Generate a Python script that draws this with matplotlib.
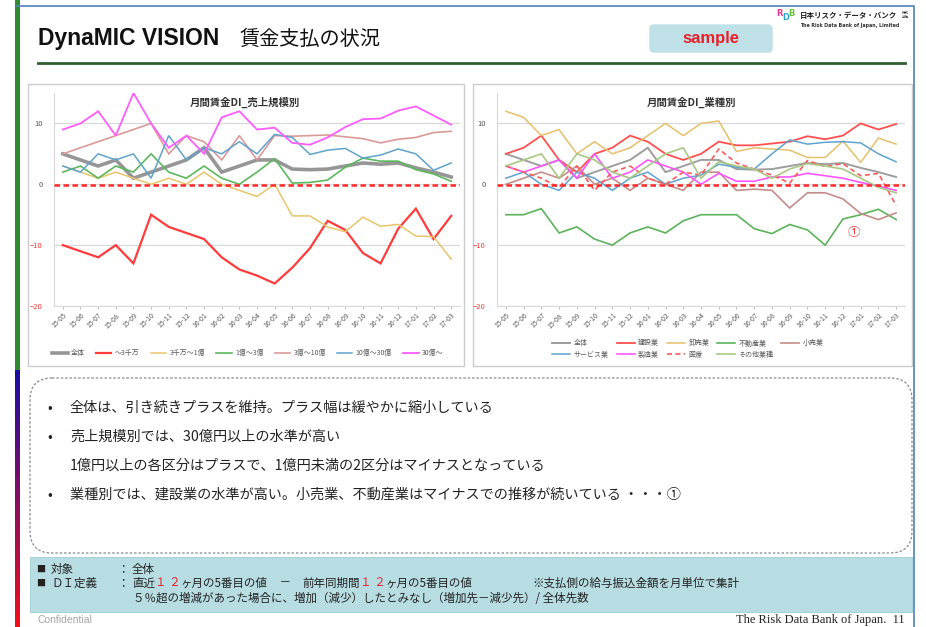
import numpy as np
import matplotlib
matplotlib.use("Agg")
import matplotlib.pyplot as plt
from matplotlib.patches import FancyBboxPatch, Rectangle

plt.rcParams["font.family"] = ["Noto Sans CJK JP", "DejaVu Sans"]

W, H = 926, 627

# ---- data ----
months = ['15-05', '15-06', '15-07', '15-08', '15-09', '15-10', '15-11', '15-12',
          '16-01', '16-02', '16-03', '16-04', '16-05', '16-06', '16-07', '16-08',
          '16-09', '16-10', '16-11', '16-12', '17-01', '17-02', '17-03']

# 売上規模別
size_total = [5, 4, 3, 4, 1, 2, 3, 4, 6, 2, 3, 4, 4, 2.5, 2.4, 2.5, 3, 3.5, 3.3, 3.5, 2.7, 2, 1.2]
size_lt3m = [-10, -11, -12, -10, -13, -5, -7, -8, -9, -12, -14, -15, -16.3, -13.7, -10.5, -6,
             -7.5, -11.3, -13, -7.3, -4, -9, -5.2]
size_3m_1 = [3, 2, 1, 2, 1, 0, 1, 0, 2, 0, -1, -2, 0, -5.2, -5.2, -7, -7.8, -5.4, -6.9, -6.6,
             -8.5, -8.6, -12.3]
size_1_3 = [2, 3, 1, 3, 2, 5, 2, 1, 3, 1, 0, 2, 4.2, 0.2, 0.3, 0.7, 2.8, 4.3, 3.8, 3.8, 2.4, 1.7, 0.5]
size_3_10 = [5, 6, 7, 8, 9, 10, 5, 8, 7, 4, 8, 4, 8, 7.9, 8, 8.1, 7.8, 7.5, 6.8, 7.4, 7.7, 8.5, 8.7]
size_10_30 = [3, 2, 5, 4, 5, 1, 8, 4, 6, 5, 7, 5, 8.2, 7.7, 4.9, 5.6, 5.9, 4.3, 4.8, 5.8, 5, 2.3, 3.5]
size_30 = [9, 10, 12, 8, 15, 10, 6, 8, 5, 11, 12, 9, 9.3, 6.8, 6.5, 7.7, 9.4, 10.7, 10.8, 12.1,
           12.8, 11.3, 9.8]
size_labels = ['全体', '～3千万', '3千万～1億', '1億～3億', '3億～10億', '10億～30億', '30億～']

# 業種別
ind_total = size_total
ind_const = [5, 6, 8, 4, 2, 5, 6, 8, 7, 5, 4, 5, 7, 6.4, 6.4, 6.7, 7, 7.9, 7.4, 8, 10, 9, 9.9]
ind_whole = [12, 11, 8, 9, 5, 7, 5, 6, 8, 10, 8, 10, 10.4, 5.4, 6, 5.8, 5.6, 4.4, 4.4, 7.1, 3.6, 7.6, 6.6]
ind_real = [-5, -5, -4, -8, -7, -9, -10, -8, -7, -8, -6, -5, -5, -5, -7.3, -8.1, -6.6, -7.5, -10,
            -5.7, -5, -4.1, -5.8]
ind_retail = [0, 1, 2, 1, 3, 0, 1, -1, 1, 0, -1, 2, 2, -1, -0.8, -1, -3.9, -1.4, -1.4, -2.4,
              -4.8, -5.8, -4.7]
ind_service = [1, 2, 0, -1, 2, 1, -1, 1, 2, 0, 1, 1.5, 3.3, 2.8, 2.5, 5, 7.3, 6.6, 6.9, 7, 6.8, 5, 3.7]
ind_mfg = [3, 2, 3, 4, 1, 5, 1, 2, 4, 3, 2, 0, 1.8, 0.5, 0.5, 1.2, 1.2, 1.8, 1.4, 1, 0.3, -0.3, -1]
ind_med = [3, 2, 1, -0.5, 3, -1, 2, 3, 1, 0, 2, 1.5, 5.8, 3.5, 2.5, 1.5, 0.2, 3.9, 2.9, 3.4, 1.4,
           1.8, -3.5]
ind_other = [3, 4, 5, 1, 5, 4, 2, 1, 3, 5, 6, 1, 3.7, 3, 2.5, 1, 2.5, 3.4, 3, 2.5, 1, -0.5, -1.4]
ind_labels = ['全体', '建設業', '卸売業', '不動産業', '小売業', 'サービス業', '製造業', '医療', 'その他業種']

bullets = ['全体は、引き続きプラスを維持。プラス幅は緩やかに縮小している',
           '売上規模別では、30億円以上の水準が高い',
           '1億円以上の各区分はプラスで、1億円未満の2区分はマイナスとなっている',
           '業種別では、建設業の水準が高い。小売業、不動産業はマイナスでの推移が続いている ・・・①']


fig = plt.figure(figsize=(W / 100, H / 100), dpi=100)
fig.patch.set_facecolor('white')

# background axes in pixel coordinates
bg = fig.add_axes([0, 0, 1, 1])
bg.set_xlim(0, W)
bg.set_ylim(H, 0)
bg.axis('off')

# slide frame
bg.plot([16, 914, 914], [6, 6, H], color='#4f81bd', lw=1.2)
bg.add_patch(Rectangle((15, 0), 5, 370, color='#2e8b2e', lw=0))
grad = np.linspace(0, 1, 60)
for i, g in enumerate(grad):
    c = (0.1 + 0.85 * g, 0.05, 0.65 * (1 - g) + 0.1 * g)
    bg.add_patch(Rectangle((15, 370 + i * (H - 370) / 60), 5, (H - 370) / 60 + 0.5, color=c, lw=0))

# title
bg.text(38, 39, 'DynaMIC VISION', fontsize=16.5, fontweight='bold', family='Liberation Sans',
        va='center', ha='left', color='#111111')
bg.text(240, 39, '賃金支払の状況', fontsize=14.5, va='center', ha='left', color='#111111')
bg.plot([38, 905], [63, 63], color='#2f5f2f', lw=2)

# sample box
bg.add_patch(FancyBboxPatch((650, 25), 122, 27, boxstyle='round,pad=0,rounding_size=4',
                            fc='#bfe0e6', ec='#bfe0e6'))
bg.text(711, 38.5, 'sample', fontsize=12, fontweight='bold', color='#e8202a',
        ha='center', va='center', family='Liberation Sans')

# logo
bg.text(776, 14, 'R', fontsize=6, color='#e83a8c', fontweight='bold', va='center', family='DejaVu Sans')
bg.text(782, 18, 'D', fontsize=6, color='#2aa7d8', fontweight='bold', va='center', family='DejaVu Sans')
bg.text(788, 14, 'B', fontsize=6, color='#6cbf3c', fontweight='bold', va='center', family='DejaVu Sans')
bg.text(800, 15, '日本リスク・データ・バンク', fontsize=5.4, fontweight='bold', va='center', color='#222222')
bg.text(902, 15, '株式\n会社', fontsize=2.5, va='center', color='#222222', linespacing=0.9)
bg.text(800, 26, 'The Risk Data Bank of Japan, Limited', fontsize=3.4, fontweight='bold',
        va='center', color='#333333', family='DejaVu Sans')

# chart frames
for x0, x1 in [(28, 464), (473, 912)]:
    bg.add_patch(Rectangle((x0, 84), x1 - x0, 282, fill=False, ec='#cccccc', lw=1))


def make_chart(left, right, series, title, title_x):
    ax = fig.add_axes([left / W, 1 - 306 / H, (right - left) / W, (306 - 93) / H])
    x = np.arange(len(months))
    for vals, color, lw, ls, lab in series:
        ax.plot(x, vals, color=color, lw=lw, ls=ls, label=lab, solid_joinstyle='miter')
    ax.axhline(-0.15, color='#ff2a2a', lw=1.8, ls=(0, (2.2, 1.4)), zorder=5)
    ax.set_xlim(-0.5, len(months) - 0.5)
    ax.set_ylim(-20, 15)
    ax.set_yticks([-20, -10, 0, 10])
    ax.yaxis.grid(True, color='#d9d9d9', lw=0.9)
    ax.set_axisbelow(True)
    ax.set_xticks(x)
    ax.set_xticklabels(months, rotation=45, ha='right', rotation_mode='anchor', fontsize=5,
                       color='#595959')
    ax.tick_params(axis='x', length=2, color='#bfbfbf', pad=2)
    ax.tick_params(axis='y', length=0, labelsize=5.5, pad=8, labelcolor='#595959')
    for t, v in zip(ax.get_yticklabels(), [-20, -10, 0, 10]):
        if v < 0:
            t.set_color('#ff3b3b')
    for s in ['top', 'right']:
        ax.spines[s].set_visible(False)
    ax.spines['left'].set_color('#d9d9d9')
    ax.spines['bottom'].set_color('#d9d9d9')
    ax.patch.set_alpha(0)
    bg.text(title_x, 102, title, fontsize=7.5, fontweight='bold', ha='center', va='center',
            color='#333333')
    return ax


ax1 = make_chart(54, 460, [
    (size_total, '#969696', 2.6, '-', size_labels[0]),
    (size_lt3m, '#ff3b3b', 1.6, '-', size_labels[1]),
    (size_3m_1, '#e9c46a', 1.1, '-', size_labels[2]),
    (size_1_3, '#5cb85c', 1.2, '-', size_labels[3]),
    (size_3_10, '#d99a98', 1.2, '-', size_labels[4]),
    (size_10_30, '#5fa3cc', 1.1, '-', size_labels[5]),
    (size_30, '#ff5cff', 1.3, '-', size_labels[6]),
], '月間賃金DI_売上規模別', 245)

ax2 = make_chart(497, 905, [
    (ind_total, '#9e9e9e', 1.4, '-', ind_labels[0]),
    (ind_const, '#ff5050', 1.3, '-', ind_labels[1]),
    (ind_whole, '#e6c06a', 1.1, '-', ind_labels[2]),
    (ind_real, '#5cb35c', 1.2, '-', ind_labels[3]),
    (ind_retail, '#c48d8b', 1.2, '-', ind_labels[4]),
    (ind_service, '#5ea3d0', 1.1, '-', ind_labels[5]),
    (ind_mfg, '#ff55ff', 1.2, '-', ind_labels[6]),
    (ind_med, '#ff5a5a', 1.2, (0, (3, 2)), ind_labels[7]),
    (ind_other, '#a8c884', 1.2, '-', ind_labels[8]),
], '月間賃金DI_業種別', 692)
ax2.text(19.6, -7.9, '①', color='#ff3b3b', fontsize=9, ha='center', va='center')

# legends
h, l = ax1.get_legend_handles_labels()
ax1.legend(h, l, loc='center', bbox_to_anchor=(248 / W, 1 - 353 / H), bbox_transform=fig.transFigure,
           ncol=7, frameon=False, fontsize=5, handlelength=2.2, columnspacing=1.6, handletextpad=0.5,
           labelcolor='#595959')
h, l = ax2.get_legend_handles_labels()
order = [0, 5, 1, 6, 2, 7, 3, 8, 4]
ax2.legend([h[i] for i in order], [l[i] for i in order], loc='center',
           bbox_to_anchor=(688 / W, 1 - 349 / H), bbox_transform=fig.transFigure,
           ncol=5, frameon=False, fontsize=5, handlelength=2.6, columnspacing=1.1, handletextpad=0.5,
           labelspacing=0.45, labelcolor='#595959')

# comment box
bg.add_patch(FancyBboxPatch((30, 378), 882, 175, boxstyle='round,pad=0,rounding_size=22',
                            fc='white', ec='#8a8a8a', lw=0.9, ls=(0, (2, 1.5))))
for yy, txt, bul in [(408, bullets[0], True), (437, bullets[1], True),
                     (466, bullets[2], False), (495, bullets[3], True)]:
    if bul:
        bg.text(47, yy, '•', fontsize=10, va='center', ha='left', color='#222222')
    bg.text(70, yy, txt, fontsize=10.2, va='center', ha='left', color='#222222')

# definition box
bg.add_patch(Rectangle((30, 557), 882, 55, fc='#b7dde3', ec='#9fcdd5', lw=0.6))
r = fig.canvas.get_renderer()
fs = 8.3


def seg_text(x, y, parts, size=fs):
    for s, c in parts:
        t = bg.text(x, y, s, color=c, fontsize=size, va='center', ha='left')
        x += t.get_window_extent(renderer=r).width
    return x


dk = '#222222'
bg.text(36, 569, '■', fontsize=6.5, va='center', color=dk)
bg.text(51, 569, '対象', fontsize=fs, va='center', color=dk)
bg.text(117, 569, '：', fontsize=fs, va='center', color=dk)
bg.text(132, 569, '全体', fontsize=fs, va='center', color=dk)
bg.text(36, 583, '■', fontsize=6.5, va='center', color=dk)
bg.text(51, 583, 'ＤＩ定義', fontsize=fs, va='center', color=dk)
bg.text(117, 583, '：', fontsize=fs, va='center', color=dk)
seg_text(132, 583, [('直近', dk), ('１ ２', '#e8202a'), ('ヶ月の5番目の値', dk), ('　－　', dk),
                    ('前年同期間', dk), ('１ ２', '#e8202a'), ('ヶ月の5番目の値', dk)])
bg.text(532, 583, '※支払側の給与振込金額を月単位で集計', fontsize=fs, va='center', color=dk)
bg.text(133, 598, '５％超の増減があった場合に、増加（減少）したとみなし（増加先－減少先）/ 全体先数',
        fontsize=fs, va='center', color=dk)

# footer
bg.text(38, 620, 'Confidential', fontsize=7.5, color='#a6a6a6', va='center', family='Liberation Sans')
bg.text(905, 620, 'The Risk Data Bank of Japan.  11', fontsize=9, color='#222222', va='center',
        ha='right', family='Liberation Serif')

fig.savefig('out.png', dpi=100)
